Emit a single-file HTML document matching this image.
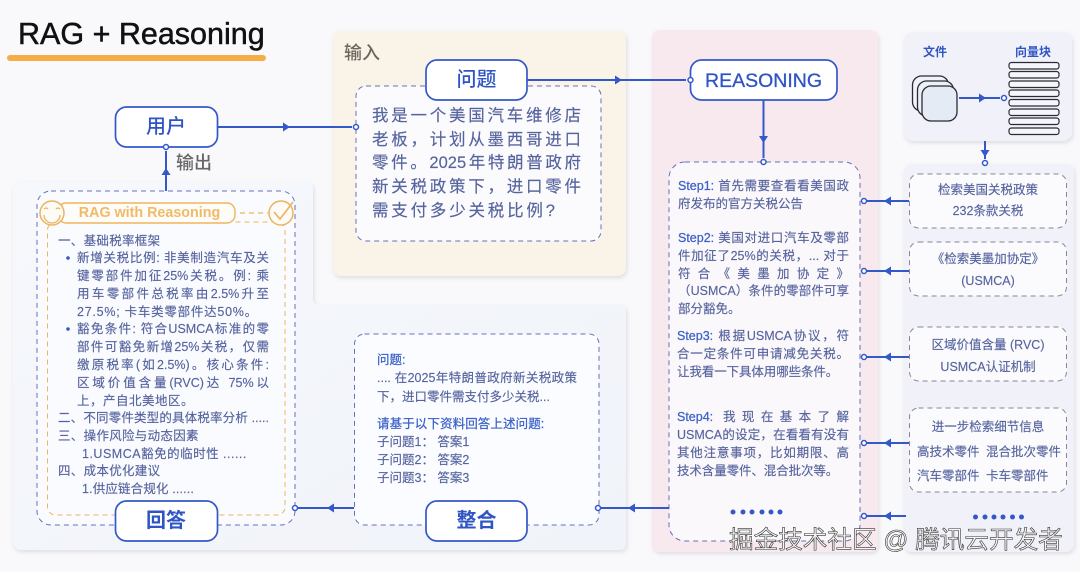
<!DOCTYPE html>
<html><head><meta charset="utf-8">
<style>
html,body{margin:0;padding:0;width:1080px;height:572px;overflow:hidden;background:#f9f9fb}
body{position:relative;font-family:"Liberation Sans","Noto Sans CJK SC",sans-serif}
svg{position:absolute;left:0;top:0}
.t{position:absolute;white-space:nowrap;color:#56649e;font-size:12.5px;line-height:18px;height:18px;-webkit-text-stroke:.15px #56649e}
.j{white-space:normal;text-align:justify;text-align-last:justify;overflow:visible}
.c{text-align:center}
.n{position:absolute;color:#2f55c4;text-align:center;font-weight:500;white-space:nowrap}
.b{color:#3c62c8;-webkit-text-stroke:.25px #3c62c8}
</style></head><body>
<svg width="1080" height="572" viewBox="0 0 1080 572">
<defs>
<filter id="s" x="-5%" y="-5%" width="110%" height="110%"><feDropShadow dx="1" dy="2" stdDeviation="2" flood-color="#8a8a9a" flood-opacity=".25"/></filter>
<linearGradient id="lg" x1="0" y1="0" x2="1" y2="1"><stop offset="0" stop-color="#f6f8fc"/><stop offset="1" stop-color="#f0f3f9"/></linearGradient>
</defs>
<g filter="url(#s)">
<path d="M21 182H307a6 6 0 0 1 6 6V299a6 6 0 0 0 6 6H620a6 6 0 0 1 6 6V544a6 6 0 0 1-6 6H21a8 8 0 0 1-8-8V190a8 8 0 0 1 8-8Z" fill="url(#lg)"/>
<rect x="333" y="31" width="293" height="245" rx="8" fill="#f9f3e8"/>
<rect x="652" y="30" width="226" height="522" rx="8" fill="#f8e9ee"/>
<rect x="904" y="32" width="168" height="109" rx="9" fill="#f1f1fa"/>
<rect x="904" y="164" width="170" height="388" rx="8" fill="#f1f1f9"/>
</g>
<g fill="#fbfcff" stroke="#6671bb" stroke-width="1" stroke-dasharray="5 4">
<rect x="37" y="191" width="258" height="334" rx="14" fill="#f9fbff"/>
<rect x="356" y="86" width="245" height="155" rx="10" fill="#fbfbfd"/>
<rect x="354.500" y="334" width="244.500" height="191" rx="10" fill="#fafcff"/>
<rect x="669" y="162" width="191" height="379" rx="16" fill="#fbf8fb"/>
</g>
<g fill="#fbfbfe" stroke="#85859a" stroke-width="1" stroke-dasharray="5 4">
<rect x="909.500" y="174" width="157" height="54" rx="9"/>
<rect x="909.500" y="242" width="157" height="54" rx="9"/>
<rect x="909.500" y="327" width="157" height="54" rx="9"/>
<rect x="909.500" y="408" width="157" height="84" rx="9"/>
</g>
<rect x="47.500" y="222" width="237.500" height="293" rx="8" fill="none" stroke="#f0b55a" stroke-width="1" stroke-dasharray="5 4"/>
<rect x="7" y="55" width="259" height="6" rx="3" fill="#f5ae45"/>
<g fill="none" stroke="#3358c9" stroke-width="2">
<path d="M217 127H352M527 80H686M763.500 100V158M166 191V151M985 141V159M867 201H909M867 271H909M867 357H909M867 443H909M867 516H906M601 508H669M298 508H354M959 98H1000"/>
</g>
<g fill="#3358c9">
<path d="M283 122.500l7 4.500-7 4.500zM615 75.500l7 4.500-7 4.500zM759 136l4.500 7 4.500-7zM161.500 175l4.500-7 4.500 7zM980.500 150l4.500 7 4.500-7z"/>
<path d="M891 196.500l-7 4.500 7 4.500zM891 266.500l-7 4.500 7 4.500zM891 352.500l-7 4.500 7 4.500zM891 438.500l-7 4.500 7 4.500zM891 511.500l-7 4.500 7 4.500zM635 503.500l-7 4.500 7 4.500zM334 503.500l-7 4.500 7 4.500zM979 93.500l7 4.500-7 4.500z"/>
<circle cx="733" cy="512" r="2.500"/><circle cx="743" cy="512" r="2.500"/><circle cx="752" cy="512" r="2.500"/><circle cx="762" cy="512" r="2.500"/><circle cx="771" cy="512" r="2.500"/><circle cx="780" cy="512" r="2.500"/>
<circle cx="975.500" cy="517" r="2.500"/><circle cx="985" cy="517" r="2.500"/><circle cx="994" cy="517" r="2.500"/><circle cx="1003" cy="517" r="2.500"/><circle cx="1012.500" cy="517" r="2.500"/><circle cx="1021.500" cy="517" r="2.500"/>
<circle cx="68" cy="258" r="1.800"/><circle cx="68" cy="329" r="1.800"/>
</g>
<g fill="#fff" stroke="#3358c9" stroke-width="1.700">
<rect x="115.500" y="107" width="102" height="40" rx="11"/>
<rect x="426" y="60" width="101" height="40" rx="11"/>
<rect x="690.500" y="60" width="146.500" height="40" rx="11"/>
<rect x="115.500" y="501" width="102" height="40" rx="11"/>
<rect x="426" y="501" width="101" height="40" rx="11"/>
</g>
<g fill="#fff" stroke="#3358c9" stroke-width="1.500">
<circle cx="166" cy="147" r="2.500"/><circle cx="356" cy="127" r="2.500"/><circle cx="690.500" cy="80" r="2.500"/><circle cx="763.500" cy="162" r="2.500"/><circle cx="985" cy="163" r="2.500"/>
<circle cx="864" cy="201" r="2.500"/><circle cx="864" cy="271" r="2.500"/><circle cx="864" cy="357" r="2.500"/><circle cx="864" cy="443" r="2.500"/><circle cx="864" cy="516" r="2.500"/>
<circle cx="598" cy="508" r="2.500"/><circle cx="295" cy="508" r="2.500"/><circle cx="1004" cy="98" r="2.500"/>
</g>
<!-- RAG pill -->
<rect x="58" y="203" width="177" height="20" rx="8" fill="#fdfcf8" stroke="#f0b55a" stroke-width="1.400"/>
<path d="M240 213H268" stroke="#f0b55a" stroke-width="1.200" stroke-dasharray="5 4" fill="none"/>
<g fill="#fdfbf6" stroke="#ecb45e" stroke-width="1.500">
<circle cx="52" cy="213" r="12"/><circle cx="281" cy="213" r="12"/>
</g>
<g fill="none" stroke="#ecb45e" stroke-width="1.300">
<path d="M44 215a8 8 0 0 0 16 0M44 209q2-2 4 0M56 209q2-2 4 0"/>
<path d="M274 212l6 7 13-17" stroke-width="1.700"/>
</g>
<!-- documents -->
<g stroke="#2b2b33" stroke-width="1.300">
<rect x="912.500" y="76" width="36" height="35" rx="9" fill="#f1f2fa"/>
<rect x="917.500" y="81" width="36" height="35" rx="9" fill="#eef0f8"/>
<rect x="922" y="86" width="35" height="35" rx="9" fill="#e5ebf4"/>
</g>
<g fill="#f5f5fb" stroke="#2b2b33" stroke-width="1.200">
<rect x="1009" y="62.500" width="50" height="6.500" rx="2.500"/><rect x="1009" y="71.500" width="50" height="6.500" rx="2.500"/><rect x="1009" y="81" width="50" height="6.500" rx="2.500"/><rect x="1009" y="90" width="50" height="6.500" rx="2.500"/><rect x="1009" y="99.500" width="50" height="6.500" rx="2.500"/><rect x="1009" y="109" width="50" height="6.500" rx="2.500"/><rect x="1009" y="118" width="50" height="6.500" rx="2.500"/><rect x="1009" y="128" width="50" height="6.500" rx="2.500"/>
</g>
</svg>

<div style="position:absolute;left:18px;top:14px;font-size:30.500px;line-height:40px;color:#111;white-space:nowrap;-webkit-text-stroke:.5px #111">RAG + Reasoning</div>

<div class="n" style="left:115px;top:114px;width:102px;font-size:20px;line-height:26px">用户</div>
<div class="n" style="left:426px;top:67px;width:101px;font-size:20px;line-height:26px">问题</div>
<div class="n" style="left:690px;top:68px;width:147px;font-size:19.500px;line-height:26px;font-weight:400;-webkit-text-stroke:.3px #2f55c4">REASONING</div>
<div class="n" style="left:115px;top:508px;width:102px;font-size:20px;line-height:26px;font-weight:700">回答</div>
<div class="n" style="left:426px;top:508px;width:101px;font-size:20px;line-height:26px;font-weight:700">整合</div>
<div class="n" style="left:344px;top:41px;font-size:18px;line-height:24px;color:#6c675e">输入</div>
<div class="n" style="left:176px;top:151px;font-size:18px;line-height:24px;color:#666">输出</div>
<div class="n" style="left:58px;top:204px;width:183px;font-size:14.300px;line-height:18px;color:#f1ba66;font-weight:700">RAG with Reasoning</div>
<div class="n" style="left:923px;top:44px;font-size:12px;line-height:16px;font-weight:700">文件</div>
<div class="n" style="left:1015px;top:44px;font-size:12px;line-height:16px;font-weight:700">向量块</div>

<!-- left text -->
<div class="t" style="left:58px;top:232px;letter-spacing:.3px">一、基础税率框架</div>
<div class="t j" style="left:77px;top:249px;width:192px">新增关税比例: 非美制造汽车及关</div>
<div class="t j" style="left:77px;top:267px;width:192px">键零部件加征25%关税。例: 乘</div>
<div class="t j" style="left:77px;top:285px;width:192px">用车零部件总税率由2.5%升至</div>
<div class="t" style="left:77px;top:303px;letter-spacing:.75px">27.5%; 卡车类零部件达50%。</div>
<div class="t j" style="left:77px;top:320px;width:192px">豁免条件: 符合USMCA标准的零</div>
<div class="t j" style="left:77px;top:338px;width:192px">部件可豁免新增25%关税，仅需</div>
<div class="t j" style="left:77px;top:356px;width:192px">缴原税率(如2.5%)。核心条件:</div>
<div class="t j" style="left:77px;top:374px;width:192px">区域价值含量(RVC)达 75%以</div>
<div class="t" style="left:77px;top:392px;letter-spacing:.5px">上，产自北美地区。</div>
<div class="t j" style="left:58px;top:409px;width:211px">二、不同零件类型的具体税率分析 .....</div>
<div class="t" style="left:58px;top:427px;letter-spacing:.3px">三、操作风险与动态因素</div>
<div class="t" style="left:82px;top:445px;letter-spacing:.5px">1.USMCA豁免的临时性 ......</div>
<div class="t" style="left:82px;top:480px;letter-spacing:.15px">1.供应链合规化 ......</div>
<div class="t" style="left:58px;top:462px;letter-spacing:.3px">四、成本优化建议</div>

<!-- question -->
<div class="t j" style="left:372px;top:105px;width:209px;font-size:16.500px;line-height:22px;height:22px">我是一个美国汽车维修店</div>
<div class="t j" style="left:372px;top:129px;width:209px;font-size:16.500px;line-height:22px;height:22px">老板，计划从墨西哥进口</div>
<div class="t j" style="left:372px;top:152px;width:209px;font-size:16.500px;line-height:22px;height:22px">零件。2025年特朗普政府</div>
<div class="t j" style="left:372px;top:176px;width:209px;font-size:16.500px;line-height:22px;height:22px">新关税政策下，进口零件</div>
<div class="t" style="left:372px;top:200px;font-size:16.500px;line-height:22px;letter-spacing:2.800px">需支付多少关税比例?</div>

<!-- merge -->
<div class="t b" style="left:377px;top:351px">问题:</div>
<div class="t j" style="left:377px;top:369px;width:200px">.... 在2025年特朗普政府新关税政策</div>
<div class="t" style="left:377px;top:388px">下，进口零件需支付多少关税...</div>
<div class="t b" style="left:377px;top:415px;letter-spacing:.1px">请基于以下资料回答上述问题:</div>
<div class="t" style="left:377px;top:433px">子问题1： 答案1</div>
<div class="t" style="left:377px;top:451px">子问题2： 答案2</div>
<div class="t" style="left:377px;top:469px">子问题3： 答案3</div>

<!-- reasoning -->
<div class="t j" style="left:678px;top:177px;width:171px"><span class="b">Step1:</span> 首先需要查看看美国政</div>
<div class="t" style="left:678px;top:195px">府发布的官方关税公告</div>
<div class="t j" style="left:678px;top:229px;width:171px"><span class="b">Step2:</span> 美国对进口汽车及零部</div>
<div class="t j" style="left:678px;top:247px;width:171px">件加征了25%的关税，... 对于</div>
<div class="t j" style="left:678px;top:265px;width:171px">符合《美墨加协定》</div>
<div class="t j" style="left:678px;top:282px;width:171px">（USMCA）条件的零部件可享</div>
<div class="t" style="left:678px;top:300px">部分豁免。</div>
<div class="t j" style="left:677px;top:327px;width:172px"><span class="b">Step3:</span> 根据USMCA协议，符</div>
<div class="t j" style="left:677px;top:345px;width:172px">合一定条件可申请减免关税。</div>
<div class="t" style="left:677px;top:363px;letter-spacing:-.1px">让我看一下具体用哪些条件。</div>
<div class="t j" style="left:677px;top:408px;width:172px"><span class="b">Step4:</span> 我现在基本了解</div>
<div class="t j" style="left:677px;top:426px;width:172px">USMCA的设定，在看看有没有</div>
<div class="t j" style="left:677px;top:444px;width:172px">其他注意事项，比如期限、高</div>
<div class="t" style="left:677px;top:462px;letter-spacing:-.1px">技术含量零件、混合批次等。</div>

<!-- retrieval -->
<div class="t c" style="left:909px;top:181px;width:158px">检索美国关税政策</div>
<div class="t c" style="left:909px;top:202px;width:158px">232条款关税</div>
<div class="t c" style="left:909px;top:250px;width:158px">《检索美墨加协定》</div>
<div class="t c" style="left:909px;top:272px;width:158px">(USMCA)</div>
<div class="t c" style="left:909px;top:336px;width:158px">区域价值含量 (RVC)</div>
<div class="t c" style="left:909px;top:358px;width:158px">USMCA认证机制</div>
<div class="t c" style="left:909px;top:418px;width:158px">进一步检索细节信息</div>
<div class="t" style="left:917px;top:443px">高技术零件</div>
<div class="t" style="left:986px;top:443px">混合批次零件</div>
<div class="t" style="left:917px;top:467px">汽车零部件</div>
<div class="t" style="left:986px;top:467px">卡车零部件</div>

<div style="position:absolute;left:729px;top:525px;font-size:24.600px;line-height:32px;white-space:nowrap;color:#f7f7f7;-webkit-text-stroke:.6px #333">掘金技术社区 @ 腾讯云开发者</div>
</body></html>
